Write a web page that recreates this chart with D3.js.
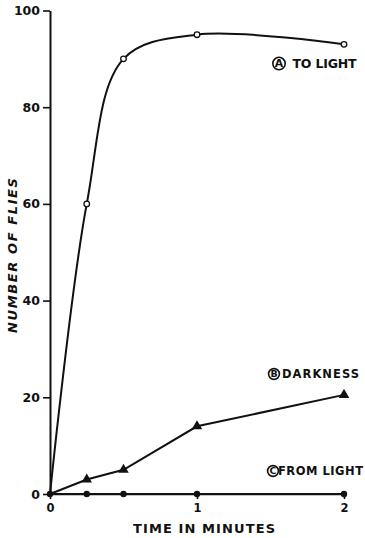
<!DOCTYPE html>
<html>
<head>
<meta charset="utf-8">
<script src="https://cdn.jsdelivr.net/npm/d3@7"></script>
<style>
  html, body { margin: 0; padding: 0; background: #fff; }
  svg text { font-family: "DejaVu Sans", "Liberation Sans", sans-serif; font-weight: bold; fill: #111; }
</style>
</head>
<body>
<svg id="chart" width="365" height="538"></svg>
<script>
// Time points (minutes) and fly counts for each condition
const times = [0, 0.25, 0.5, 1, 2];
const toLight = [0, 60, 90, 95, 93];
const darkness = [0, 3, 5, 14, 20.5];
const fromLight = [0, 0, 0, 0, 0];

const yTicks = [0, 20, 40, 60, 80, 100];
const xTicks = [0, 1, 2];
const seriesLabels = [
  { letter: "A", text: "TO LIGHT" },
  { letter: "B", text: "DARKNESS" },
  { letter: "C", text: "FROM LIGHT" }
];
const xTitle = "TIME IN MINUTES";
const yTitle = "NUMBER OF FLIES";

const svg = d3.select("#chart");
const ink = "#111";

const x = d3.scaleLinear().domain([0, 2]).range([50, 344]);
const y = d3.scaleLinear().domain([0, 100]).range([494, 10.5]);

// Y axis: line with ticks pointing left
const yAxis = svg.append("g")
  .attr("transform", `translate(${x(0)},0)`)
  .call(d3.axisLeft(y).tickValues(yTicks).tickSize(7).tickPadding(3).tickSizeOuter(0));
yAxis.select(".domain").attr("stroke", ink).attr("stroke-width", 2);
yAxis.selectAll(".tick line").attr("stroke", ink).attr("stroke-width", 1.6);
yAxis.selectAll(".tick text").style("font-size", "12.5px").attr("fill", ink);

// X axis: baseline with short ticks below
const xAxis = svg.append("g")
  .attr("transform", `translate(0,${y(0)})`)
  .call(d3.axisBottom(x).tickValues(xTicks).tickSize(5).tickPadding(5).tickSizeOuter(0).tickFormat(d3.format("d")));
xAxis.select(".domain").attr("stroke", ink).attr("stroke-width", 1.6);
xAxis.selectAll(".tick line").attr("stroke", ink).attr("stroke-width", 1.6);
xAxis.selectAll(".tick text").style("font-size", "11.5px").attr("fill", ink);

// Axis titles
svg.append("text")
  .attr("x", 133)
  .attr("y", 533)
  .attr("textLength", 142)
  .attr("lengthAdjust", "spacing")
  .style("font-size", "13px")
  .text(xTitle);

svg.append("text")
  .attr("transform", `translate(17,333) rotate(-90)`)
  .attr("textLength", 155)
  .attr("lengthAdjust", "spacing")
  .style("font-size", "13px")
  .style("font-style", "italic")
  .text(yTitle);

// Series lines
const pts = vals => times.map((t, i) => [x(t), y(vals[i])]);

svg.append("path")
  .attr("d", d3.line().curve(d3.curveCatmullRom.alpha(0.5))(pts(toLight)))
  .attr("fill", "none").attr("stroke", ink).attr("stroke-width", 2);
svg.append("path")
  .attr("d", d3.line()(pts(darkness)))
  .attr("fill", "none").attr("stroke", ink).attr("stroke-width", 2);
svg.append("path")
  .attr("d", d3.line()(pts(fromLight)))
  .attr("fill", "none").attr("stroke", ink).attr("stroke-width", 2);

// Markers: open circles (A), filled triangles (B), filled dots (C)
svg.selectAll(".mA").data(pts(toLight).slice(1)).join("circle")
  .attr("cx", d => d[0]).attr("cy", d => d[1]).attr("r", 2.8)
  .attr("fill", "#fff").attr("stroke", ink).attr("stroke-width", 1.3);

const tri = d3.symbol().type(d3.symbolTriangle).size(48);
svg.selectAll(".mB").data(pts(darkness).slice(1)).join("path")
  .attr("transform", d => `translate(${d[0]},${d[1]})`)
  .attr("d", tri).attr("fill", ink);

svg.selectAll(".mC").data(pts(fromLight)).join("circle")
  .attr("cx", d => d[0]).attr("cy", d => d[1]).attr("r", 3.2)
  .attr("fill", ink);

// Circled-letter series labels
const labelPos = [
  { cx: 279, cy: 63.5, r: 6.2, fs: 12.5, tx: 292.5, w: 64 },
  { cx: 274, cy: 374, r: 5.4, fs: 11.5, tx: 282, w: 77 },
  { cx: 273, cy: 471, r: 5.4, fs: 11.5, tx: 278, w: 85 }
];
seriesLabels.forEach((s, i) => {
  const p = labelPos[i];
  const g = svg.append("g");
  g.append("circle").attr("cx", p.cx).attr("cy", p.cy).attr("r", p.r)
    .attr("fill", "none").attr("stroke", ink).attr("stroke-width", 1.6);
  g.append("text").attr("x", p.cx).attr("y", p.cy + p.r * 0.62)
    .attr("text-anchor", "middle").style("font-size", (p.r * 1.75) + "px").text(s.letter);
  g.append("text").attr("x", p.tx).attr("y", p.cy + p.fs * 0.36)
    .attr("textLength", p.w).attr("lengthAdjust", "spacing")
    .style("font-size", p.fs + "px").text(s.text);
});
</script>
</body>
</html>
